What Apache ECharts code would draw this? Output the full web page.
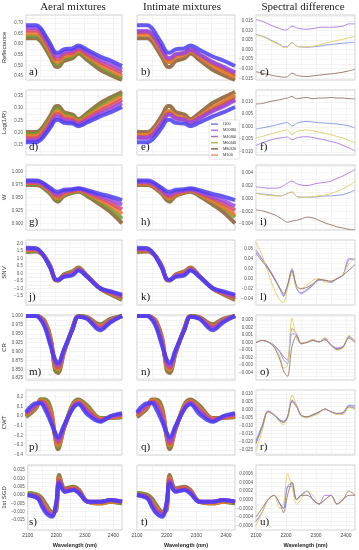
<!DOCTYPE html>
<html><head><meta charset="utf-8">
<script src="https://cdn.jsdelivr.net/npm/echarts@6/dist/echarts.min.js"></script>
<style>html,body{margin:0;padding:0;background:#fff}#c{width:359px;height:550px}</style>
</head><body><div id="c"></div>
<script>
// ---------------- DATA ----------------
const CLASSES = ['I100','M20I80','M40I60','M60I40','M80I20','M100'];
const DIFF_NAMES = ['dM20I80','dM40I60','dM60I40','dM80I20'];
const WL = [2100,2135,2150,2165,2185,2200,2210,2230,2260,2280,2310,2355,2390,2430];
const DW = [2100,2120,2140,2160,2180,2192,2205,2220,2235,2250,2270,2290,2310,2330,2350,2370,2390,2410,2430];
const X_LABELS = [2100,2200,2300,2400];

// a) Reflectance, aeral
const reflAeral = [
 [.690,.690,.676,.645,.598,.562,.560,.576,.580,.594,.574,.542,.523,.497],
 [.678,.678,.664,.632,.585,.548,.545,.564,.570,.585,.563,.528,.507,.480],
 [.665,.665,.651,.620,.573,.535,.530,.553,.560,.577,.553,.515,.492,.465],
 [.652,.652,.638,.607,.560,.521,.516,.541,.551,.569,.543,.502,.478,.450],
 [.640,.640,.626,.595,.548,.508,.502,.530,.542,.562,.534,.490,.465,.440],
 [.628,.628,.614,.583,.536,.496,.492,.520,.534,.556,.526,.479,.455,.432]];
// b) Reflectance, intimate
const reflIntimate = [
 [.690,.690,.676,.645,.598,.562,.560,.576,.580,.594,.574,.542,.523,.497],
 [.662,.663,.650,.620,.574,.538,.535,.552,.559,.574,.552,.516,.495,.467],
 [.657,.659,.646,.617,.571,.534,.529,.551,.559,.575,.551,.512,.489,.461],
 [.645,.646,.633,.604,.558,.520,.515,.539,.550,.568,.541,.498,.473,.443],
 [.652,.653,.639,.609,.562,.522,.516,.544,.556,.576,.547,.503,.477,.451],
 [.628,.628,.614,.583,.536,.496,.492,.520,.534,.556,.526,.479,.455,.432]];
// d) Log(1/R), aeral
const logAeral = [
 [.161,.161,.170,.190,.223,.250,.252,.240,.237,.226,.241,.266,.282,.304],
 [.169,.169,.178,.199,.233,.261,.264,.249,.244,.233,.250,.277,.295,.319],
 [.177,.177,.186,.208,.242,.272,.276,.257,.252,.239,.257,.288,.308,.333],
 [.186,.186,.195,.217,.252,.283,.287,.267,.259,.245,.265,.299,.321,.347],
 [.194,.194,.203,.226,.261,.294,.299,.276,.266,.250,.273,.310,.333,.357],
 [.202,.202,.212,.234,.271,.305,.308,.284,.273,.255,.279,.320,.342,.365]];
// e) Log(1/R), intimate
const logIntimate = [
 [.161,.161,.170,.190,.223,.250,.252,.240,.237,.226,.241,.266,.282,.304],
 [.179,.178,.187,.208,.241,.269,.272,.258,.253,.241,.258,.287,.305,.331],
 [.182,.181,.190,.210,.243,.273,.277,.259,.253,.240,.259,.291,.311,.336],
 [.190,.190,.199,.219,.253,.284,.288,.268,.260,.246,.267,.303,.325,.354],
 [.186,.185,.194,.215,.250,.282,.287,.264,.255,.240,.262,.298,.321,.346],
 [.202,.202,.212,.234,.271,.305,.308,.284,.273,.255,.279,.320,.342,.365]];
// g) W, aeral
const wAeral = [
 [.983,.983,.981,.976,.968,.962,.961,.965,.966,.968,.964,.957,.952,.945],
 [.981,.981,.979,.974,.965,.958,.957,.962,.965,.967,.962,.953,.946,.936],
 [.979,.979,.977,.972,.963,.955,.953,.960,.963,.966,.960,.949,.940,.927],
 [.978,.978,.976,.970,.961,.951,.949,.957,.962,.964,.958,.944,.934,.918],
 [.976,.976,.974,.968,.958,.948,.945,.955,.960,.963,.955,.940,.928,.909],
 [.974,.974,.972,.966,.956,.945,.942,.953,.959,.961,.953,.936,.922,.900]];
// h) W, intimate
const wIntimate = [
 [.983,.983,.981,.976,.968,.962,.961,.965,.966,.968,.964,.957,.952,.945],
 [.980,.980,.978,.973,.964,.957,.956,.961,.964,.966,.961,.951,.944,.933],
 [.979,.979,.977,.971,.962,.954,.952,.959,.962,.965,.959,.948,.939,.925],
 [.977,.977,.975,.969,.960,.950,.948,.956,.961,.964,.957,.943,.932,.916],
 [.977,.977,.975,.969,.959,.949,.946,.956,.961,.964,.956,.942,.930,.912],
 [.974,.974,.972,.966,.956,.945,.942,.953,.959,.961,.953,.936,.922,.900]];
// j) SNV, aeral
const snvAeral = [
 [1.70,1.68,1.45,1.05,0.30,-0.38,-0.42,-0.22,-0.12,0.20,-0.22,-0.98,-1.18,-1.40],
 [1.65,1.64,1.43,1.06,0.33,-0.39,-0.43,-0.19,-0.06,0.24,-0.20,-0.98,-1.22,-1.47],
 [1.60,1.60,1.41,1.07,0.36,-0.40,-0.44,-0.16,-0.01,0.28,-0.19,-0.99,-1.26,-1.54],
 [1.54,1.55,1.39,1.08,0.39,-0.41,-0.45,-0.13,0.04,0.32,-0.18,-0.99,-1.30,-1.61],
 [1.48,1.50,1.37,1.09,0.42,-0.42,-0.46,-0.10,0.09,0.36,-0.16,-1.00,-1.34,-1.68],
 [1.42,1.45,1.35,1.10,0.45,-0.43,-0.47,-0.07,0.14,0.40,-0.15,-1.00,-1.38,-1.75]];
// k) SNV, intimate
const snvIntimate = [
 [1.70,1.68,1.45,1.05,0.30,-0.38,-0.42,-0.22,-0.12,0.20,-0.22,-0.98,-1.18,-1.40],
 [1.62,1.62,1.42,1.06,0.34,-0.39,-0.43,-0.18,-0.05,0.25,-0.20,-0.98,-1.23,-1.49],
 [1.58,1.58,1.40,1.07,0.37,-0.40,-0.44,-0.15,0.00,0.29,-0.19,-0.99,-1.27,-1.56],
 [1.53,1.54,1.38,1.08,0.40,-0.41,-0.45,-0.12,0.05,0.33,-0.17,-0.99,-1.31,-1.63],
 [1.51,1.52,1.37,1.09,0.41,-0.42,-0.46,-0.11,0.07,0.35,-0.16,-1.00,-1.33,-1.66],
 [1.42,1.45,1.35,1.10,0.45,-0.43,-0.47,-0.07,0.14,0.40,-0.15,-1.00,-1.38,-1.75]];
// m) CR, aeral
const crAeral = [
 [1.000,1.000,0.990,0.968,0.915,0.878,0.868,0.905,0.962,0.998,0.992,0.960,0.982,1.000],
 [1.000,1.000,0.992,0.972,0.920,0.872,0.862,0.903,0.963,0.998,0.993,0.964,0.984,1.000],
 [1.000,1.000,0.994,0.976,0.925,0.866,0.856,0.901,0.964,0.999,0.994,0.968,0.986,1.000],
 [1.000,1.000,0.995,0.980,0.930,0.860,0.850,0.899,0.965,0.999,0.995,0.971,0.988,1.000],
 [1.000,1.000,0.996,0.983,0.934,0.853,0.845,0.897,0.966,1.000,0.996,0.974,0.990,1.000],
 [1.000,1.000,0.997,0.986,0.938,0.847,0.840,0.895,0.967,1.000,0.997,0.977,0.992,1.000]];
// n) CR, intimate
const crIntimate = [
 [1.000,1.000,0.990,0.968,0.915,0.878,0.868,0.905,0.962,0.998,0.992,0.960,0.982,1.000],
 [1.000,1.000,0.993,0.973,0.921,0.870,0.860,0.902,0.963,0.998,0.993,0.965,0.985,1.000],
 [1.000,1.000,0.994,0.977,0.926,0.865,0.855,0.900,0.964,0.999,0.994,0.969,0.987,1.000],
 [1.000,1.000,0.995,0.980,0.930,0.859,0.849,0.899,0.965,0.999,0.995,0.971,0.988,1.000],
 [1.000,1.000,0.995,0.981,0.932,0.856,0.847,0.898,0.965,1.000,0.995,0.972,0.989,1.000],
 [1.000,1.000,0.997,0.986,0.938,0.847,0.840,0.895,0.967,1.000,0.997,0.977,0.992,1.000]];
// p) CWT, aeral
const cwtAeral = [
 [0.04,0.13,0.13,0.07,-0.06,-0.17,-0.22,-0.10,0.07,0.12,0.02,-0.06,0.00,0.03],
 [0.03,0.12,0.14,0.10,-0.04,-0.18,-0.25,-0.12,0.08,0.13,0.04,-0.05,-0.01,0.02],
 [0.02,0.11,0.15,0.13,-0.01,-0.19,-0.27,-0.12,0.09,0.14,0.06,-0.04,-0.01,0.01],
 [0.01,0.10,0.16,0.15,0.03,-0.20,-0.30,-0.13,0.10,0.15,0.08,-0.03,-0.02,0.00],
 [0.00,0.09,0.17,0.17,0.06,-0.21,-0.32,-0.13,0.11,0.16,0.10,-0.02,-0.02,-0.01],
 [-0.01,0.08,0.17,0.17,0.08,-0.22,-0.34,-0.13,0.12,0.17,0.11,-0.02,-0.02,-0.01]];
// q) CWT, intimate
const cwtIntimate = [
 [0.04,0.13,0.13,0.07,-0.06,-0.17,-0.22,-0.10,0.07,0.12,0.02,-0.06,0.00,0.03],
 [0.03,0.12,0.14,0.11,-0.03,-0.18,-0.26,-0.12,0.08,0.13,0.05,-0.05,-0.01,0.02],
 [0.02,0.11,0.15,0.13,0.00,-0.19,-0.28,-0.12,0.09,0.14,0.06,-0.04,-0.01,0.01],
 [0.01,0.10,0.16,0.15,0.03,-0.20,-0.30,-0.13,0.10,0.15,0.08,-0.03,-0.02,0.00],
 [0.01,0.10,0.16,0.16,0.05,-0.21,-0.31,-0.13,0.10,0.15,0.09,-0.03,-0.02,0.00],
 [-0.01,0.08,0.17,0.17,0.08,-0.22,-0.34,-0.13,0.12,0.17,0.11,-0.02,-0.02,-0.01]];
// s) 1st SGD, aeral
const sgdAeral = [
 [0.000,-0.002,-0.007,-0.011,-0.013,-0.004,0.007,0.002,0.003,0.001,-0.004,-0.004,-0.003,-0.004],
 [0.000,-0.002,-0.006,-0.010,-0.012,-0.005,0.008,0.002,0.003,0.001,-0.004,-0.004,-0.003,-0.004],
 [0.000,-0.001,-0.005,-0.009,-0.012,-0.006,0.009,0.003,0.004,0.002,-0.004,-0.004,-0.003,-0.004],
 [0.000,-0.001,-0.004,-0.008,-0.011,-0.007,0.010,0.003,0.004,0.002,-0.004,-0.005,-0.004,-0.004],
 [0.001,0.000,-0.003,-0.007,-0.011,-0.008,0.011,0.003,0.005,0.002,-0.004,-0.005,-0.004,-0.005],
 [0.001,0.000,-0.002,-0.006,-0.010,-0.009,0.012,0.004,0.005,0.003,-0.004,-0.005,-0.004,-0.005]];
// t) 1st SGD, intimate
const sgdIntimate = [
 [0.000,-0.002,-0.007,-0.011,-0.013,-0.004,0.007,0.002,0.003,0.001,-0.004,-0.004,-0.003,-0.004],
 [0.000,-0.002,-0.006,-0.010,-0.012,-0.005,0.008,0.002,0.003,0.001,-0.004,-0.004,-0.003,-0.004],
 [0.000,-0.001,-0.005,-0.009,-0.011,-0.006,0.009,0.003,0.004,0.002,-0.004,-0.004,-0.003,-0.004],
 [0.000,-0.001,-0.004,-0.008,-0.011,-0.007,0.010,0.003,0.004,0.002,-0.004,-0.005,-0.004,-0.004],
 [0.001,0.000,-0.003,-0.007,-0.011,-0.008,0.010,0.003,0.004,0.002,-0.004,-0.005,-0.004,-0.005],
 [0.001,0.000,-0.002,-0.006,-0.010,-0.009,0.012,0.004,0.005,0.003,-0.004,-0.005,-0.004,-0.005]];

// Spectral differences (purple, blue, yellow, brown)
const reflDiff = [
 [.0156,.0148,.0134,.0120,.0109,.0102,.0104,.0123,.0113,.0108,.0106,.0109,.0115,.0116,.0116,.0118,.0122,.0134,.0134],
 [.0078,.0071,.0057,.0040,.0026,.0014,.0016,.0038,.0017,.0014,.0012,.0014,.0017,.0023,.0026,.0030,.0033,.0036,.0038],
 [.0075,.0068,.0054,.0036,.0023,.0010,.0012,.0036,.0016,.0014,.0014,.0017,.0024,.0033,.0040,.0047,.0054,.0061,.0068],
 [-.0116,-.0123,-.0130,-.0137,-.0142,-.0144,-.0142,-.0123,-.0135,-.0139,-.0141,-.0137,-.0134,-.0130,-.0127,-.0123,-.0118,-.0111,-.0104]];
const logDiff = [
 [-.0075,-.0065,-.0056,-.0049,-.0045,-.0043,-.0041,-.0052,-.0045,-.0041,-.0040,-.0043,-.0048,-.0053,-.0059,-.0065,-.0075,-.0085,-.0096],
 [-.0009,-.0005,.0000,.0005,.0011,.0015,.0017,.0003,.0013,.0019,.0021,.0019,.0016,.0015,.0013,.0011,.0008,.0003,-.0005],
 [-.0045,-.0039,-.0032,-.0025,-.0019,-.0015,-.0012,-.0032,-.0019,-.0015,-.0013,-.0016,-.0021,-.0027,-.0032,-.0039,-.0045,-.0056,-.0065],
 [.0091,.0093,.0099,.0104,.0108,.0112,.0115,.0121,.0112,.0115,.0117,.0112,.0115,.0115,.0117,.0115,.0115,.0112,.0112]];
const wDiff = [
 [.0018,.0017,.0016,.0016,.0017,.0020,.0024,.0027,.0023,.0021,.0020,.0022,.0024,.0025,.0027,.0031,.0035,.0040,.0045],
 [.0008,.0007,.0006,.0005,.0004,.0005,.0008,.0010,.0003,.0002,.0002,.0002,.0003,.0004,.0004,.0005,.0006,.0009,.0013],
 [.0008,.0006,.0005,.0004,.0004,.0005,.0008,.0010,.0003,.0002,.0002,.0003,.0004,.0005,.0008,.0011,.0015,.0020,.0027],
 [-.0018,-.0019,-.0022,-.0025,-.0030,-.0034,-.0037,-.0035,-.0034,-.0032,-.0029,-.0030,-.0034,-.0038,-.0041,-.0044,-.0046,-.0048,-.0049]];
const snvDiff = [
 [.057,.040,.023,.003,-.020,-.033,-.013,.020,-.017,-.030,-.023,-.013,-.003,-.003,-.007,.000,.007,.040,.037],
 [.053,.039,.021,.001,-.021,-.035,-.015,.017,-.019,-.028,-.021,-.012,-.002,-.004,-.007,.000,.007,.037,.039],
 [.072,.047,.013,-.020,-.043,-.047,-.020,.010,-.017,-.019,-.013,-.003,.000,-.007,-.005,.001,.008,.030,.040],
 [.050,.035,.020,.001,-.019,-.030,-.013,.015,-.013,-.020,-.017,-.010,-.001,-.003,-.005,.000,.007,.017,.028]];
const crDiff = [
 [0,.0003,.0001,-.0003,-.0012,-.0019,-.0023,.0019,.0012,-.0001,.0001,.0004,.0001,.0006,-.0003,-.0007,-.0005,.0008,.0003],
 [0,.0003,.0001,-.0004,-.0013,-.0023,-.0028,.0012,.0010,-.0002,.0001,.0003,.0001,.0004,-.0004,-.0008,-.0006,.0008,.0001],
 [0,.0003,.0001,-.0005,-.0019,-.0034,-.0030,.0033,.0006,-.0001,.0001,.0004,.0001,.0007,-.0003,-.0010,-.0007,.0010,.0001],
 [0,.0003,.0001,-.0006,-.0023,-.0038,-.0045,-.0005,.0009,-.0001,.0000,.0003,.0001,.0004,-.0003,-.0009,-.0006,.0006,.0000]];
const cwtDiff = [
 [-.0202,-.0107,-.0006,-.0028,-.0064,-.0075,-.0043,.0064,.0032,-.0032,-.0043,-.0032,-.0015,.0006,-.0011,-.0023,-.0021,.0028,.0021],
 [-.0192,-.0100,-.0006,-.0026,-.0062,-.0070,-.0040,.0058,.0028,-.0036,-.0045,-.0032,-.0015,.0006,-.0011,-.0023,-.0019,.0032,.0028],
 [-.0256,-.0138,-.0011,-.0028,-.0079,-.0092,-.0053,.0096,.0032,-.0036,-.0049,-.0038,-.0021,.0006,-.0011,-.0028,-.0028,.0015,.0006],
 [-.0213,-.0113,-.0011,-.0032,-.0070,-.0079,-.0045,.0053,.0021,-.0032,-.0043,-.0028,-.0011,.0006,-.0011,-.0021,-.0015,.0021,.0011]];
const sgdDiff = [
 [-.0005,-.0003,.0000,.0001,-.0001,-.0002,.0003,.0004,.0000,.0001,.0002,.0000,-.0001,.0001,.0001,-.0001,.0000,.0002,.0001],
 [-.0005,-.0003,.0000,.0001,-.0001,-.0002,.0003,.0003,.0000,.0001,.0002,.0000,-.0001,.0000,.0001,-.0001,.0000,.0002,.0001],
 [-.0006,-.0003,.0000,.0001,-.0002,-.0001,.0006,.0003,-.0001,.0000,.0002,.0001,-.0001,.0000,.0001,-.0001,.0000,.0002,.0001],
 [-.0004,-.0002,.0000,.0001,-.0001,-.0003,.0001,.0004,.0000,.0001,.0001,.0000,-.0001,.0000,.0001,-.0001,.0000,.0001,.0001]];

// tick labels
const ticksRefl = [0.45,0.50,0.55,0.60,0.65,0.70];
const ticksReflDiff = [-0.015,-0.010,-0.005,0,0.005,0.010,0.015];
const ticksLog = [0.15,0.20,0.25,0.30,0.35];
const ticksLogDiff = [-0.010,-0.005,0,0.005,0.010];
const ticksW = [0.900,0.925,0.950,0.975,1.000];
const ticksWDiff = [-0.004,-0.002,0,0.002,0.004];
const ticksSnv = [-1.5,-1.0,-0.5,0,0.5,1.0,1.5,2.0];
const ticksSnvDiff = [-0.04,-0.02,0,0.02,0.04,0.06];
const ticksCr = [0.825,0.850,0.875,0.900,0.925,0.950,0.975,1.000];
const ticksCrDiff = [-0.004,-0.003,-0.002,-0.001,0,0.001,0.002,0.003];
const ticksCwt = [-0.4,-0.3,-0.2,-0.1,0,0.1,0.2];
const ticksCwtDiff = [-0.025,-0.020,-0.015,-0.010,-0.005,0,0.005,0.010];
const ticksSgd = [-0.015,-0.010,-0.005,0,0.005,0.010,0.015];
const ticksSgdDiff = [-0.0006,-0.0004,-0.0002,0,0.0002,0.0004,0.0006];

// ---------------- LAYOUT / STYLE ----------------
const ROWS = [
 {name:'Reflectance', aer:reflAeral, int:reflIntimate, diff:reflDiff, band:[0.431,0.738], bt:ticksRefl, bd:2, dr:[-0.0159,0.018], dt:ticksReflDiff, dd:3, L:['a)','b)','c)']},
 {name:'Log(1/R)', aer:logAeral, int:logIntimate, diff:logDiff, band:[0.109,0.373], bt:ticksLog, bd:2, dr:[-0.0113,0.0147], dt:ticksLogDiff, dd:3, L:['d)','e)','f)']},
 {name:'W', aer:wAeral, int:wIntimate, diff:wDiff, band:[0.887,1.013], bt:ticksW, bd:3, dr:[-0.0049,0.0052], dt:ticksWDiff, dd:3, L:['g)','h)','i)']},
 {name:'SNV', aer:snvAeral, int:snvIntimate, diff:snvDiff, band:[-2.09,2.22], bt:ticksSnv, bd:1, dr:[-0.052,0.0766], dt:ticksSnvDiff, dd:2, L:['j)','k)','l)']},
 {name:'CR', aer:crAeral, int:crIntimate, diff:crDiff, band:[0.82,1.003], bt:ticksCr, bd:3, dr:[-0.005,0.0037], dt:ticksCrDiff, dd:3, L:['m)','n)','o)']},
 {name:'CWT', aer:cwtAeral, int:cwtIntimate, diff:cwtDiff, band:[-0.4,0.267], bt:ticksCwt, bd:1, dr:[-0.0285,0.0127], dt:ticksCwtDiff, dd:3, L:['p)','q)','r)']},
 {name:'1st SGD', aer:sgdAeral, int:sgdIntimate, diff:sgdDiff, band:[-0.021,0.018], bt:ticksSgd, bd:3, dr:[-0.0007,0.0008], dt:ticksSgdDiff, dd:4, L:['s)','t)','u)']}
];
const COLS = [{left:25,width:97},{left:137,width:98},{left:256,width:99}];
const TOPS = [15,90,165,240,315,390,465];
const H = 65;
const BAND_COLORS = ['#4a3ef0','#9a4ae0','#d8466e','#ec7a2a','#6e9a34','#8a5a2e'];
const LEGEND_COLORS = ['#7878f0','#b878f0','#a070c8','#b8b848','#8a6a60','#f09878'];
const DIFF_COLORS = ['#b07ee8','#8a9ae0','#e2d070','#9c7c72'];
const SERIF = '"Liberation Serif","DejaVu Serif",serif';

function fmt(v, d){ const s = Math.abs(v).toFixed(d); return (v < -1e-12 ? '\u2212' : '') + s; }

const grids=[], xAxes=[], yAxes=[], series=[], graphics=[];
ROWS.forEach((r, ri) => {
  for (let ci=0; ci<3; ci++) {
    const gi = grids.length;
    const isDiff = ci===2, isBottom = ri===ROWS.length-1;
    grids.push({left:COLS[ci].left, width:COLS[ci].width, top:TOPS[ri], height:H, show:true,
      borderColor:'#c4c4c4', borderWidth:0.8, backgroundColor:'#fff', containLabel:false});
    xAxes.push({gridIndex:gi, type:'value', min:2100, max:2430, interval:50,
      axisLine:{show:false}, axisTick:{show:false},
      splitLine:{show:true, lineStyle:{color:'#ececec', width:0.6}},
      axisLabel:{show:isBottom, fontSize:5, color:'#444', margin:3,
        formatter:v => X_LABELS.indexOf(v)>=0 ? String(v) : ''},
      name: isBottom ? 'Wavelength (nm)' : '', nameLocation:'middle', nameGap:12,
      nameTextStyle:{fontSize:5.5, fontWeight:'bold', color:'#222'}});
    const range = isDiff ? r.dr : r.band;
    const ticks = isDiff ? r.dt : r.bt;
    const dec = isDiff ? r.dd : r.bd;
    const step = ticks[1]-ticks[0];
    const gridVals = [];
    ticks.forEach(t => { gridVals.push(t); gridVals.push(t+step/2); });
    gridVals.push(ticks[0]-step/2);
    yAxes.push({gridIndex:gi, type:'value', min:range[0], max:range[1],
      axisLine:{show:false},
      axisTick:{show:false, customValues:gridVals.filter(v=>v>range[0]&&v<range[1])},
      splitLine:{show:true, lineStyle:{color:'#ececec', width:0.6}},
      axisLabel:{show:ci!==1, customValues:ticks, formatter:v=>fmt(v,dec), fontSize:4.5, color:'#555', margin:3},
      name: ci===0 ? r.name : '', nameLocation:'middle', nameRotate:90, nameGap:19,
      nameTextStyle:{fontSize:6, color:'#333'}});
    if (!isDiff) {
      const arr = ci===0 ? r.aer : r.int;
      for (let k=CLASSES.length-1; k>=0; k--) {
        series.push({type:'line', name:CLASSES[k], xAxisIndex:gi, yAxisIndex:gi,
          data:WL.map((w,i)=>[w, arr[k][i]]), showSymbol:false, smooth:0.35, silent:true,
          lineStyle:{width:4, color:BAND_COLORS[k], opacity:0.85}, itemStyle:{color:BAND_COLORS[k]}});
      }
    } else {
      r.diff.forEach((d,k) => {
        series.push({type:'line', name:DIFF_NAMES[k], xAxisIndex:gi, yAxisIndex:gi,
          data:DW.map((w,i)=>[w, d[i]]), showSymbol:false, smooth:0.3, silent:true,
          lineStyle:{width:1, color:DIFF_COLORS[k], opacity:0.95}, itemStyle:{color:DIFF_COLORS[k]}});
      });
    }
    graphics.push({type:'text', x:COLS[ci].left+4, y:TOPS[ri]+H-13, z:50,
      style:{text:r.L[ci], font:'11px '+SERIF, fill:'#111'}});
  }
});
graphics.push({type:'text', x:73, y:2, style:{text:'Aeral mixtures', font:'11px '+SERIF, fill:'#222', textAlign:'center'}});
graphics.push({type:'text', x:182, y:2, style:{text:'Intimate mixtures', font:'11px '+SERIF, fill:'#222', textAlign:'center'}});
graphics.push({type:'text', x:303, y:2, style:{text:'Spectral difference', font:'11px '+SERIF, fill:'#222', textAlign:'center'}});

const chart = echarts.init(document.getElementById('c'), null, {renderer:'canvas'});
chart.setOption({
  animation:false, backgroundColor:'#fff',
  grid:grids, xAxis:xAxes, yAxis:yAxes, series:series, graphic:graphics,
  legend:{show:true, selectedMode:false, orient:'vertical', left:209, top:120,
    data:CLASSES.map((n,i)=>({name:n, icon:'rect', itemStyle:{color:LEGEND_COLORS[i]}})),
    itemWidth:7, itemHeight:1.5, itemGap:2, padding:[2,3,2,2],
    textStyle:{fontSize:4, color:'#333', lineHeight:4.2},
    backgroundColor:'#fff', borderColor:'#ccc', borderWidth:0.5, borderRadius:1, z:20}
});
</script></body></html>
